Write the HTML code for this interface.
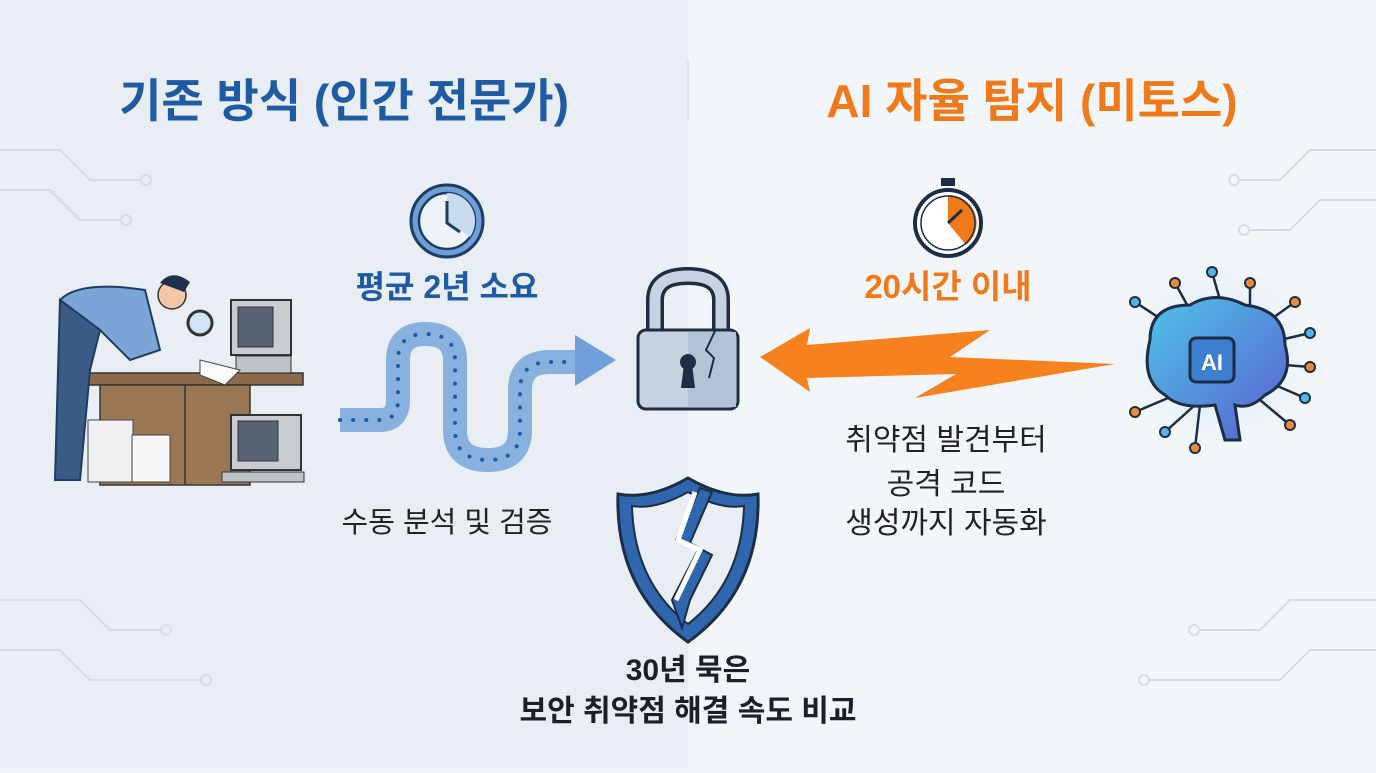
<!DOCTYPE html>
<html><head><meta charset="utf-8"><style>
html,body{margin:0;padding:0}
body{width:1376px;height:768px;overflow:hidden;font-family:"Liberation Sans","Noto Sans CJK KR",sans-serif;background:#f2f6fa}
svg text{font-family:"Liberation Sans","Noto Sans CJK KR",sans-serif}
</style></head><body>
<svg width="1376" height="768" viewBox="0 0 1376 768" xmlns="http://www.w3.org/2000/svg">
<defs>
<radialGradient id="glow" cx="50%" cy="50%" r="50%"><stop offset="0" stop-color="#bfe0f7"/><stop offset="1" stop-color="#f2f6fa" stop-opacity="0"/></radialGradient>
<linearGradient id="brain" x1="0" y1="0" x2="1" y2="1"><stop offset="0" stop-color="#4fc3e8"/><stop offset="1" stop-color="#5a5fcf"/></linearGradient>
</defs>
<rect x="0" y="0" width="688" height="768" fill="#e9eef4"/>
<rect x="688" y="0" width="688" height="768" fill="#f2f6fa"/>
<line x1="688" y1="60" x2="688" y2="120" stroke="#d0d7e0" stroke-width="1"/>
<g stroke="#d6dde6" stroke-width="2" fill="none">
<path d="M0 150 H60 L90 180 H140"/><circle cx="146" cy="180" r="5"/>
<path d="M0 190 H50 L80 220 H120"/><circle cx="126" cy="220" r="5"/>
<path d="M0 600 H80 L110 630 H160"/><circle cx="166" cy="630" r="5"/>
<path d="M0 650 H60 L90 680 H200"/><circle cx="206" cy="680" r="5"/>
<path d="M1376 150 H1310 L1280 180 H1240"/><circle cx="1234" cy="180" r="5"/>
<path d="M1376 200 H1320 L1290 230 H1250"/><circle cx="1244" cy="230" r="5"/>
<path d="M1376 600 H1290 L1260 630 H1200"/><circle cx="1194" cy="630" r="5"/>
<path d="M1376 650 H1310 L1280 680 H1150"/><circle cx="1144" cy="680" r="5"/>
</g>
<text x="344" y="117" text-anchor="middle" font-size="46" font-weight="bold" fill="#1f5ba3">기존 방식 (인간 전문가)</text>
<text x="1032" y="117" text-anchor="middle" font-size="46" font-weight="bold" fill="#f07a1a">AI 자율 탐지 (미토스)</text>
<!-- clock -->
<circle cx="447" cy="221" r="36" fill="#6f9fd6" stroke="#1c3d66" stroke-width="3"/>
<circle cx="447" cy="221" r="28" fill="#eef3f9" stroke="#1c3d66" stroke-width="2.5"/>
<path d="M447 193 A28 28 0 0 1 470 237 L447 221Z" fill="#c8dbef"/>
<path d="M447 201 V223 L460 232" stroke="#1c3d66" stroke-width="3" fill="none"/>
<text x="447" y="298" text-anchor="middle" font-size="32" font-weight="bold" fill="#1f5ba3">평균 2년 소요</text>
<!-- wavy path -->
<path d="M340 420 H380 Q398 420 398 400 V360 Q398 334 425 334 Q455 334 455 360 V430 Q455 460 488 460 Q520 460 520 430 V390 Q520 362 550 362 H580" stroke="#88b1e0" stroke-width="24" fill="none"/>
<path d="M340 420 H380 Q398 420 398 400 V360 Q398 334 425 334 Q455 334 455 360 V430 Q455 460 488 460 Q520 460 520 430 V390 Q520 362 550 362 H580" stroke="#1f5ba3" stroke-width="4" stroke-dasharray="0.1 13" stroke-linecap="round" fill="none"/>
<path d="M575 335 L616 360 L575 386Z" fill="#6fa0da"/>
<!-- person scene -->
<rect x="88" y="373" width="215" height="12" fill="#8c6a4c" stroke="#333" stroke-width="1.5"/>
<rect x="100" y="385" width="150" height="100" fill="#9b7655" stroke="#333" stroke-width="1.5"/>
<line x1="185" y1="385" x2="185" y2="485" stroke="#333" stroke-width="1.5"/>
<rect x="231" y="300" width="60" height="55" fill="#c9ccd0" stroke="#333" stroke-width="2"/>
<rect x="238" y="307" width="35" height="40" fill="#566370" stroke="#333"/>
<rect x="236" y="356" width="55" height="17" fill="#bfc2c6" stroke="#333"/>
<rect x="231" y="415" width="70" height="55" fill="#c9ccd0" stroke="#333" stroke-width="2"/>
<rect x="238" y="421" width="40" height="40" fill="#566370" stroke="#333"/>
<rect x="222" y="472" width="82" height="10" fill="#bfc2c6" stroke="#333"/>
<rect x="88" y="420" width="45" height="62" fill="#eef0f2" stroke="#444"/>
<rect x="132" y="435" width="38" height="47" fill="#f7f8f9" stroke="#444"/>
<path d="M60 300 Q80 280 145 290 L160 350 L130 360 L100 330 Z" fill="#7ca4d6" stroke="#1c3d66" stroke-width="2"/>
<path d="M60 300 L55 480 L80 480 L90 370 L100 330Z" fill="#3b5a85" stroke="#1c3d66" stroke-width="2"/>
<circle cx="172" cy="295" r="14" fill="#f3c8a8" stroke="#333" stroke-width="1.5"/>
<path d="M160 283 Q172 268 190 282 L184 292 Z" fill="#1e3250"/>
<circle cx="200" cy="323" r="12" fill="#cfe4f5" stroke="#333" stroke-width="3"/>
<path d="M200 360 L240 370 L225 385 L200 375Z" fill="#fbfbfb" stroke="#444"/>
<!-- lock -->
<path d="M655 332 V300 Q655 276 688 276 Q721 276 721 300 V332" stroke="#1c2d44" stroke-width="18" fill="none"/>
<path d="M655 332 V300 Q655 276 688 276 Q721 276 721 300 V332" stroke="#c7d3e0" stroke-width="11" fill="none"/>
<rect x="638" y="330" width="100" height="79" rx="8" fill="#c7d3e0" stroke="#1c2d44" stroke-width="3"/>
<rect x="688" y="332" width="48" height="75" fill="#b4c3d3"/>
<circle cx="688" cy="362" r="8" fill="#1c2d44"/><path d="M684 364 L681 388 H695 L692 364Z" fill="#1c2d44"/>
<path d="M715 331 L706 350 L714 358 L709 378" stroke="#1c2d44" stroke-width="2" fill="none"/>
<!-- shield -->
<path d="M688 478 Q650 500 618 494 Q615 590 688 642 Q761 590 758 494 Q726 500 688 478Z" fill="#2f66ad" stroke="#1c2d44" stroke-width="3"/>
<path d="M688 492 Q656 510 632 506 Q634 582 688 624 Q742 582 744 506 Q720 510 688 492Z" fill="#e9eef4" stroke="#1c2d44" stroke-width="2"/>
<path d="M700 488 L676 540 L698 550 L672 600 L682 628 L690 600 L712 555 L690 543 L712 492Z" fill="#2f66ad" stroke="#1c2d44" stroke-width="2"/>
<path d="M695 492 L678 540 L700 550 L676 600" stroke="#fff" stroke-width="5" fill="none"/>
<!-- stopwatch -->
<rect x="941" y="178" width="14" height="8" fill="#1c2d44"/>
<circle cx="948" cy="223" r="33" fill="#fff" stroke="#1c2d44" stroke-width="4"/>
<path d="M948 223 V195 A28 28 0 0 1 966 245Z" fill="#f07a1a"/>
<circle cx="948" cy="223" r="27" fill="none" stroke="#1c2d44" stroke-width="1.5"/>
<path d="M948 223 L962 210" stroke="#1c2d44" stroke-width="3"/>
<text x="948" y="298" text-anchor="middle" font-size="33" font-weight="bold" fill="#f07a1a">20시간 이내</text>
<!-- lightning arrow -->
<path d="M760 357 L810 328 L807 345 L990 330 L950 357 L1115 364 L915 398 L956 374 L807 378 L810 392Z" fill="#f5821f"/>
<!-- brain -->
<circle cx="1220" cy="355" r="105" fill="url(#glow)"/>
<g stroke="#1c2d44" stroke-width="2.5">
<line x1="1220" y1="300" x2="1212" y2="272"/><line x1="1190" y1="310" x2="1175" y2="283"/><line x1="1250" y1="310" x2="1250" y2="283"/>
<line x1="1170" y1="325" x2="1135" y2="302"/><line x1="1270" y1="320" x2="1295" y2="302"/><line x1="1280" y1="340" x2="1310" y2="333"/>
<line x1="1285" y1="365" x2="1310" y2="367"/><line x1="1275" y1="385" x2="1305" y2="398"/><line x1="1260" y1="400" x2="1290" y2="425"/>
<line x1="1175" y1="395" x2="1135" y2="412"/><line x1="1195" y1="405" x2="1165" y2="432"/><line x1="1200" y1="405" x2="1195" y2="448"/>
</g>
<g stroke="#1c2d44" stroke-width="2">
<circle cx="1212" cy="272" r="5" fill="#55b4e8"/><circle cx="1175" cy="283" r="5" fill="#f08a3a"/><circle cx="1250" cy="283" r="5" fill="#f08a3a"/>
<circle cx="1135" cy="302" r="5" fill="#55b4e8"/><circle cx="1295" cy="302" r="5" fill="#f08a3a"/><circle cx="1310" cy="333" r="5" fill="#55b4e8"/>
<circle cx="1310" cy="367" r="5" fill="#f08a3a"/><circle cx="1305" cy="398" r="5" fill="#55b4e8"/><circle cx="1290" cy="425" r="5" fill="#f08a3a"/>
<circle cx="1135" cy="412" r="5" fill="#f08a3a"/><circle cx="1165" cy="432" r="5" fill="#55b4e8"/><circle cx="1195" cy="448" r="5" fill="#f08a3a"/>
</g>
<path d="M1150 340 Q1150 305 1190 305 Q1215 290 1245 305 Q1285 310 1285 345 Q1295 380 1265 395 Q1250 410 1235 405 L1240 440 L1225 440 L1215 405 Q1180 410 1165 395 Q1140 380 1150 340Z" fill="url(#brain)" stroke="#1c2d44" stroke-width="3"/>
<rect x="1190" y="338" width="44" height="44" rx="6" fill="#3d7fcf" stroke="#1c2d44" stroke-width="3"/>
<text x="1212" y="370" text-anchor="middle" font-size="22" font-weight="bold" fill="#fff">AI</text>
<!-- texts -->
<text x="447" y="532" text-anchor="middle" font-size="29" fill="#222">수동 분석 및 검증</text>
<text x="946" y="450" text-anchor="middle" font-size="30" fill="#222">취약점 발견부터</text>
<text x="946" y="494" text-anchor="middle" font-size="30" fill="#222">공격 코드</text>
<text x="946" y="533" text-anchor="middle" font-size="30" fill="#222">생성까지 자동화</text>
<text x="688" y="680" text-anchor="middle" font-size="30" font-weight="bold" fill="#1a1f2a">30년 묵은</text>
<text x="688" y="721" text-anchor="middle" font-size="30" font-weight="bold" fill="#1a1f2a">보안 취약점 해결 속도 비교</text>
</svg>
</body></html>
